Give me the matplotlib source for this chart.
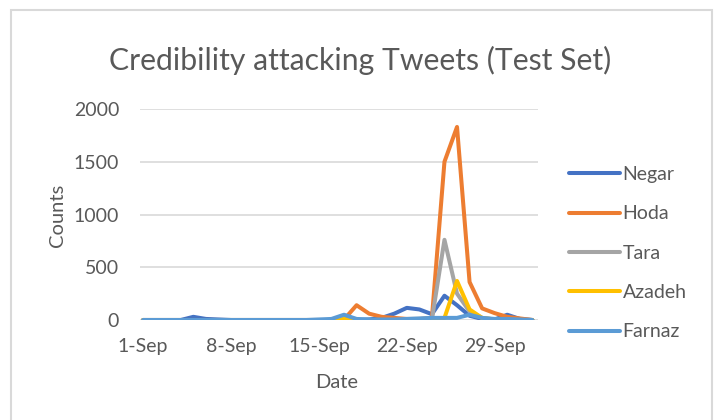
import numpy as np
import matplotlib
matplotlib.use("Agg")
import matplotlib.pyplot as plt
from matplotlib.patches import Rectangle

# daily counts, 1-Sep .. 2-Oct
dates = [f"{d}-Sep" for d in range(1, 31)] + ["1-Oct", "2-Oct"]

negar = [0, 0, 0, 0, 30, 10, 5, 0, 0, 0, 0, 0, 0, 0, 0, 0,
         0, 0, 5, 20, 60, 115, 100, 55, 230, 140, 40, 10, 5, 50, 10, 0]
hoda = [0, 0, 0, 0, 0, 0, 0, 0, 0, 0, 0, 0, 0, 0, 0, 0,
        5, 140, 60, 30, 20, 10, 10, 20, 1500, 1830, 360, 110, 65, 30, 15, 0]
tara = [0, 0, 0, 0, 0, 0, 0, 0, 0, 0, 0, 0, 0, 0, 0, 0,
        0, 0, 0, 0, 0, 0, 0, 5, 760, 250, 80, 20, 5, 0, 0, 0]
azadeh = [0, 0, 0, 0, 0, 0, 0, 0, 0, 0, 0, 0, 0, 0, 0, 0,
          10, 0, 0, 0, 0, 0, 0, 0, 20, 370, 100, 20, 5, 0, 0, 0]
farnaz = [0, 0, 0, 0, 0, 0, 0, 0, 0, 0, 0, 0, 0, 0, 5, 10,
          50, 10, 5, 5, 5, 10, 15, 20, 20, 20, 50, 20, 10, 10, 5, 0]

names = ["Negar", "Hoda", "Tara", "Azadeh", "Farnaz"]
colors = ["#4472C4", "#ED7D31", "#A5A5A5", "#FFC000", "#5B9BD5"]
tick_every = 7

plt.rcParams["font.family"] = ["Lato", "DejaVu Sans"]
text_col = "#595959"

fig = plt.figure(figsize=(7.19, 4.2), dpi=100)
fig.patches.append(Rectangle((11 / 719, -0.1), 701 / 719, 1.1 - 10 / 420,
                             transform=fig.transFigure, fill=False,
                             edgecolor="#D9D9D9", linewidth=1.5))

ax = fig.add_axes([140 / 719, 1 - 320 / 420, 398 / 719, 211 / 420])
x = np.arange(len(dates))
for name, col, vals in zip(names, colors, [negar, hoda, tara, azadeh, farnaz]):
    ax.plot(x, vals, color=col, lw=2.9, label=name, solid_joinstyle="round",
            solid_capstyle="round")

ax.set_xlim(-0.25, 31.45)
ax.set_ylim(0, 2000)
ax.set_yticks(np.arange(0, 2001, 500))
ax.set_xticks(x[::tick_every])
ax.set_xticklabels(dates[::tick_every])
ax.grid(axis="y", color="#D9D9D9", lw=1.2)
ax.set_axisbelow(True)
for s in ax.spines.values():
    s.set_visible(False)
ax.tick_params(length=0, labelsize=14, labelcolor=text_col)
ax.tick_params(axis="y", pad=15)
ax.tick_params(axis="x", pad=13)

fig.text(57 / 719, 1 - 215 / 420, "Counts", rotation=90, ha="center",
         va="center", fontsize=14.5, color=text_col)
fig.text(337 / 719, 1 - 382 / 420, "Date", ha="center", va="center",
         fontsize=14.5, color=text_col)
fig.text(360 / 719, 1 - 60 / 420, "Credibility attacking Tweets (Test Set)",
         ha="center", va="center", fontsize=21.7, color=text_col)

fig.legend(loc="upper left", bbox_to_anchor=(569 / 719, 1 - 166 / 420),
           frameon=False, fontsize=14, labelcolor=text_col, handlelength=2.6,
           handletextpad=0.15, labelspacing=1.15, borderpad=0, borderaxespad=0)

fig.savefig("out.png", dpi=100, facecolor="white")
